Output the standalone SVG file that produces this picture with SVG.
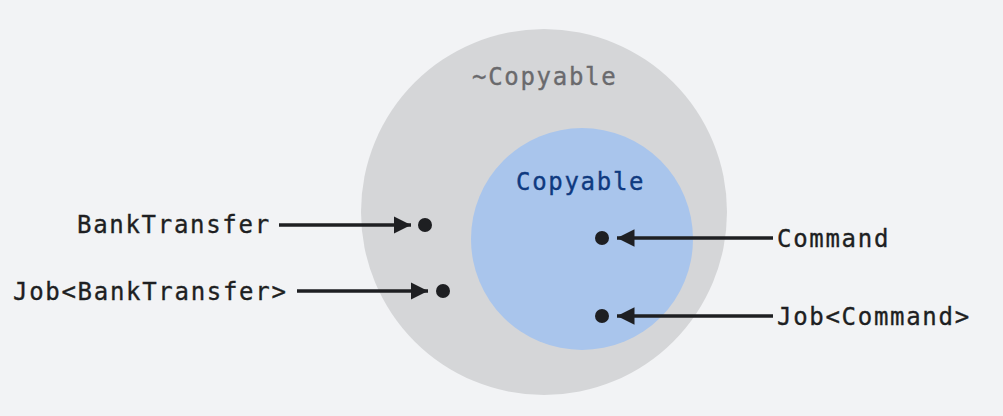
<svg xmlns="http://www.w3.org/2000/svg" width="1003" height="416" viewBox="0 0 1003 416">
<defs>
<style>
text{font-family:"DejaVu Sans Mono","Liberation Mono",monospace;font-size:24px;letter-spacing:1.7px;stroke-width:0.35px}
.lbl{fill:#1e1f22;stroke:#1e1f22}
.ln{stroke:#1e1f22;stroke-width:3.5;fill:none}
.dot{fill:#1e1f22}
</style>
<marker id="ah" viewBox="0 0 10 10" refX="10" refY="5" markerWidth="5" markerHeight="5" markerUnits="strokeWidth" orient="auto">
<path d="M0,0 L10,5 L0,10 Z" fill="#1e1f22"/>
</marker>
</defs>
<rect width="1003" height="416" fill="#f2f3f5"/>
<g id="outer">
<circle cx="544" cy="212" r="183" fill="#d5d6d8"/>
<text x="472" y="85" fill="#6a6a6d" stroke="#6a6a6d">~Copyable</text>
</g>
<g id="inner">
<circle cx="582" cy="239" r="111" fill="#a9c5ec"/>
<text x="516" y="190" fill="#0f3a80" stroke="#0f3a80">Copyable</text>
</g>
<g id="connectors">
<line class="ln" x1="279" y1="225" x2="411" y2="225" marker-end="url(#ah)"/>
<line class="ln" x1="297" y1="291" x2="428" y2="291" marker-end="url(#ah)"/>
<line class="ln" x1="773" y1="238" x2="617" y2="238" marker-end="url(#ah)"/>
<line class="ln" x1="773" y1="316" x2="617" y2="316" marker-end="url(#ah)"/>
</g>
<g id="BankTransfer">
<circle class="dot" cx="425" cy="225" r="7"/>
<text class="lbl" x="77" y="233">BankTransfer</text>
</g>
<g id="JobBankTransfer">
<circle class="dot" cx="443" cy="291" r="7"/>
<text class="lbl" x="13" y="300">Job&lt;BankTransfer&gt;</text>
</g>
<g id="Command">
<circle class="dot" cx="602" cy="238" r="7"/>
<text class="lbl" x="777" y="247">Command</text>
</g>
<g id="JobCommand">
<circle class="dot" cx="602" cy="316" r="7"/>
<text class="lbl" x="777" y="325">Job&lt;Command&gt;</text>
</g>
</svg>
